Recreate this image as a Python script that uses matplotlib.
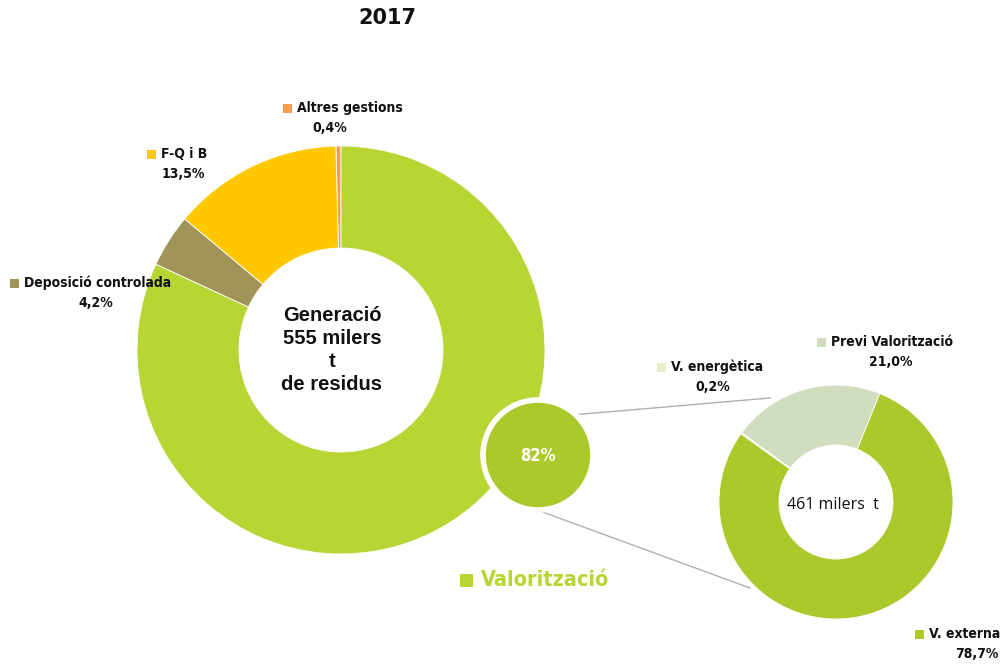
import matplotlib.pyplot as plt
from matplotlib.patches import Rectangle

# Big donut: generation by management type (counterclockwise from 12 o'clock)
gen_labels = ['Altres gestions', 'F-Q i B', 'Deposició controlada', 'Valorització']
gen_values = [0.4, 13.5, 4.2, 81.9]
gen_colors = ['#f79c4f', '#ffc800', '#a09459', '#b7d634']
gen_total = 555

# Small donut: breakdown of valorització
val_labels = ['Previ Valorització', 'V. energètica', 'V. externa']
val_values = [21.0, 0.2, 78.7]
val_colors = ['#d1ddbf', '#e8f0cb', '#abc92b']
val_total = 461
val_share = 82

H = 665
NARROW = ['DejaVu Sans']
BOLD = ['Liberation Sans', 'DejaVu Sans']


def py(y):
    # pixel row -> data y (axis goes up)
    return H - y


def pct(v):
    return f'{v:.1f}'.replace('.', ',') + '%'


def label(ax, x, y, name, value, color, dx_val):
    ax.add_patch(Rectangle((x, py(y) - 4.5), 9, 9, color=color, lw=0))
    ax.text(x + 14, py(y), name, family=NARROW, stretch='condensed', weight='bold',
            fontsize=10, va='center', ha='left', color='#111111')
    ax.text(x + dx_val, py(y + 20), value, family=NARROW, stretch='condensed',
            weight='bold', fontsize=10, va='center', ha='center', color='#111111')


fig = plt.figure(figsize=(10.02, 6.65), dpi=100)
ax = fig.add_axes([0, 0, 1, 1])

ax.pie(gen_values, colors=gen_colors, startangle=90, counterclock=True,
       center=(341, py(350)), radius=204,
       wedgeprops=dict(width=102, edgecolor='white', linewidth=0.6))

ax.pie(val_values, colors=val_colors, startangle=68, counterclock=True,
       center=(836, py(502)), radius=117,
       wedgeprops=dict(width=60, edgecolor='white', linewidth=0.6))

# connector lines
ax.plot([548, 770], [py(417), py(398)], color='#b0b0b0', lw=1, zorder=1)
ax.plot([518, 750], [py(503), py(588)], color='#b0b0b0', lw=1, zorder=1)

# highlight circle with the valorització share
ax.pie([val_share], colors=['#abc92b'], center=(538, py(455)), radius=55,
       normalize=True, wedgeprops=dict(edgecolor='white', linewidth=4))
ax.text(538, py(456), f'{val_share}%', color='white', fontsize=12,
        weight='bold', family=NARROW, stretch='condensed', ha='center', va='center')

ax.text(332, py(350), f'Generació\n{gen_total} milers\nt\nde residus',
        family=BOLD, weight='bold', fontsize=14.5, ha='center', va='center',
        linespacing=1.25, color='#111111')
ax.text(833, py(505), f'{val_total} milers  t', family=['Open Sans', 'DejaVu Sans'],
        fontsize=11.5, ha='center', va='center', color='#111111')

ax.text(387, py(18), '2017', family=['DejaVu Sans'], weight='bold',
        fontsize=15, ha='center', va='center', color='#111111')

label(ax, 283, 108, gen_labels[0], pct(gen_values[0]), gen_colors[0], 47)
label(ax, 147, 154, gen_labels[1], pct(gen_values[1]), gen_colors[1], 36)
label(ax, 10, 283, gen_labels[2], pct(gen_values[2]), gen_colors[2], 86)
label(ax, 657, 367, val_labels[1], pct(val_values[1]), val_colors[1], 56)
label(ax, 817, 342, val_labels[0], pct(val_values[0]), val_colors[0], 74)
label(ax, 915, 634, val_labels[2], pct(val_values[2]), val_colors[2], 62)

# big "Valorització" caption
ax.add_patch(Rectangle((460, py(580) - 6.5), 13, 13, color=gen_colors[3], lw=0))
ax.text(481, py(580), gen_labels[3], family=NARROW, stretch='condensed',
        weight='bold', fontsize=15.5, color=gen_colors[3], ha='left', va='center')

ax.set_xlim(0, 1002)
ax.set_ylim(0, H)
ax.set_aspect('equal')
ax.axis('off')

fig.savefig('out.png', dpi=100)
